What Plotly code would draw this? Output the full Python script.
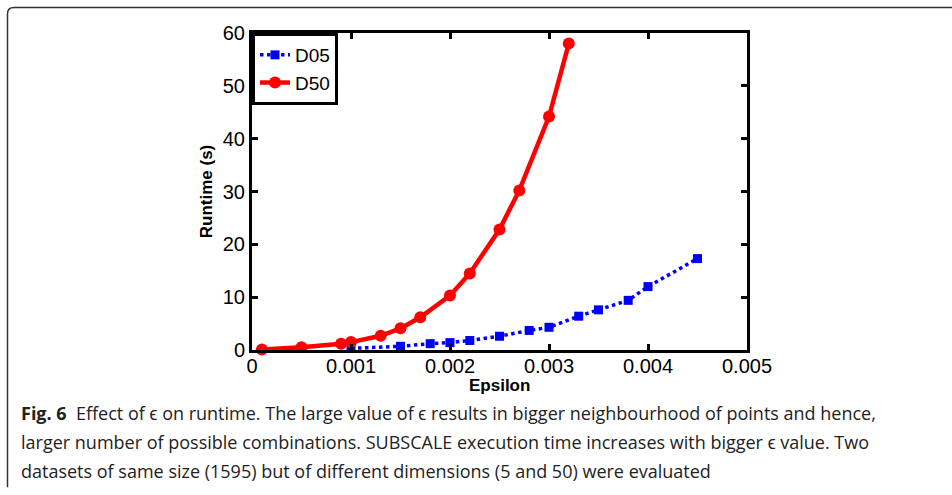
import plotly.graph_objects as go

# ---- data ----
d05_eps = [0.001, 0.0015, 0.0018, 0.002, 0.0022, 0.0025, 0.0028, 0.003, 0.0033, 0.0035, 0.0038, 0.004, 0.0045]
d05_rt = [0.3, 0.7, 1.2, 1.4, 1.8, 2.6, 3.7, 4.3, 6.4, 7.6, 9.4, 12.0, 17.3]
d50_eps = [0.0001, 0.0005, 0.0009, 0.001, 0.0013, 0.0015, 0.0017, 0.002, 0.0022, 0.0025, 0.0027, 0.003, 0.0032]
d50_rt = [0.1, 0.5, 1.2, 1.5, 2.7, 4.1, 6.2, 10.3, 14.5, 22.8, 30.2, 44.2, 58.0]
x_ticks = [0, 0.001, 0.002, 0.003, 0.004, 0.005]
x_labels = ["0", "0.001", "0.002", "0.003", "0.004", "0.005"]
y_ticks = [0, 10, 20, 30, 40, 50, 60]
caption_lines = [
    "<b>Fig. 6</b>  Effect of ϵ on runtime. The large value of ϵ results in bigger neighbourhood of points and hence,",
    "larger number of possible combinations. SUBSCALE execution time increases with bigger ϵ value. Two",
    "datasets of same size (1595) but of different dimensions (5 and 50) were evaluated",
]

W, H = 952, 495
L, R, T, B = 252, 747, 33, 350.5
PW, PH = R - L, B - T


def px(x):
    return (x - L) / PW


def py(y):
    return (B - y) / PH


fig = go.Figure()
fig.add_trace(go.Scatter(
    x=d05_eps, y=d05_rt, name="D05", mode="lines+markers",
    line=dict(color="#0000ff", width=3.5, dash="dot"),
    marker=dict(symbol="square", size=9, color="#0000ff"),
    cliponaxis=False,
))
fig.add_trace(go.Scatter(
    x=d50_eps, y=d50_rt, name="D50", mode="lines+markers",
    line=dict(color="#ff0000", width=4.5),
    marker=dict(symbol="circle", size=12, color="#ff0000"),
    cliponaxis=False,
))

axis_font = dict(family="Liberation Sans, Arial, sans-serif", size=20, color="black")
title_font = dict(family="Liberation Sans, Arial, sans-serif", size=17, color="black")
fig.update_xaxes(
    range=[0, 0.005], tickvals=x_ticks, ticktext=x_labels,
    showline=True, linecolor="black", linewidth=3, mirror="ticks",
    ticks="inside", ticklen=6, tickwidth=3, tickcolor="black",
    showgrid=False, zeroline=False, tickfont=axis_font, ticklabelstandoff=-4,
)
fig.update_yaxes(
    range=[0, 60], tickvals=y_ticks,
    showline=True, linecolor="black", linewidth=3, mirror="ticks",
    ticks="inside", ticklen=6, tickwidth=3, tickcolor="black",
    showgrid=False, zeroline=False, tickfont=axis_font,
    title=dict(text="<b>Runtime (s)</b>", font=title_font, standoff=6),
)

annotations = [dict(
    text="<b>Epsilon</b>", xref="paper", yref="paper", x=0.5, y=py(386),
    xanchor="center", yanchor="middle", showarrow=False, font=title_font,
)]
for i, line in enumerate(caption_lines):
    annotations.append(dict(
        text=line, xref="paper", yref="paper", x=px(19), y=py(414 + 29 * i),
        xanchor="left", yanchor="middle", showarrow=False,
        font=dict(family="Open Sans, sans-serif", size=18, color="#222222"),
    ))

border = "M {a},{b} L {c},{b} Q {d},{b} {d},{e} L {d},{f}".format(
    a=px(952), b=py(7.5), c=px(14), d=px(7.5), e=py(14), f=py(488))

fig.update_layout(
    width=W, height=H,
    margin=dict(l=L, r=W - R, t=T, b=H - B),
    paper_bgcolor="white", plot_bgcolor="white",
    font=dict(family="Liberation Sans, Arial, sans-serif", color="black"),
    legend=dict(
        x=0.0, y=1.0, xanchor="left", yanchor="top",
        bordercolor="black", borderwidth=3, bgcolor="white",
        font=dict(size=19, color="black"), itemwidth=30,
        tracegroupgap=0,
    ),
    annotations=annotations,
    shapes=[dict(type="path", path=border, xref="paper", yref="paper",
                 line=dict(color="#333333", width=1.5))],
)

fig.write_html("out.html", config={"displayModeBar": False},
               post_script="document.body.style.margin='0';")
